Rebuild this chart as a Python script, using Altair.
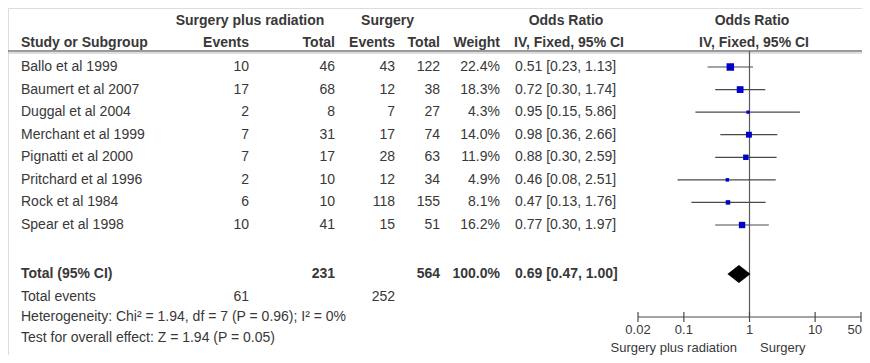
import altair as alt
import pandas as pd

FONT = "Liberation Sans"
TXT = "#383838"
FS = 14
FS_AX = 13

studies = ["Ballo et al 1999", "Baumert et al 2007", "Duggal et al 2004", "Merchant et al 1999",
           "Pignatti et al 2000", "Pritchard et al 1996", "Rock et al 1984", "Spear et al 1998"]
spr_events = [10, 17, 2, 7, 7, 2, 6, 10]
spr_total = [46, 68, 8, 31, 17, 10, 10, 41]
s_events = [43, 12, 7, 17, 28, 12, 118, 15]
s_total = [122, 38, 27, 74, 63, 34, 155, 51]
weight = [22.4, 18.3, 4.3, 14.0, 11.9, 4.9, 8.1, 16.2]
odds = [0.51, 0.72, 0.95, 0.98, 0.88, 0.46, 0.47, 0.77]
lower = [0.23, 0.30, 0.15, 0.36, 0.30, 0.08, 0.13, 0.30]
upper = [1.13, 1.74, 5.86, 2.66, 2.59, 2.51, 1.76, 1.97]

total_label = ["Total (95% CI)"]
total_spr = [231]
total_s = [564]
total_weight = [100.0]
total_or = [0.69]
total_lo = [0.47]
total_hi = [1.00]
events_label = ["Total events"]
events_spr = [61]
events_s = [252]
het_text = ["Heterogeneity: Chi² = 1.94, df = 7 (P = 0.96); I² = 0%"]
overall_text = ["Test for overall effect: Z = 1.94 (P = 0.05)"]
tick_values = [0.02, 0.1, 1, 10, 50]
tick_labels = ["0.02", "0.1", "1", "10", "50"]
favours = ["Surgery plus radiation", "Surgery"]
group_headers = ["Surgery plus radiation", "Surgery", "Odds Ratio", "Odds Ratio"]
col_headers = ["Study or Subgroup", "Events", "Total", "Events", "Total", "Weight",
               "IV, Fixed, 95% CI", "IV, Fixed, 95% CI"]

df = pd.DataFrame({
    "study": studies, "spr_events": spr_events, "spr_total": spr_total,
    "s_events": s_events, "s_total": s_total, "weight": weight,
    "odds": odds, "lower": lower, "upper": upper,
})
df["weight_txt"] = [f"{w:.1f}%" for w in weight]
df["or_txt"] = [f"{o:.2f} [{l:.2f}, {u:.2f}]" for o, l, u in zip(odds, lower, upper)]

xscale = alt.Scale(type="log", domain=[0.02, 50], range=[630, 853])
yscale = alt.Scale(type="point", domain=studies, range=[59, 217], padding=0)
Y = alt.Y("study:N", scale=yscale, axis=None)

AXIS_Y = 309


def txt(data, field, x, y, align="left", weight="normal", baseline="middle", size=FS):
    return alt.Chart(data).mark_text(
        align=align, baseline=baseline, font=FONT, fontSize=size, color=TXT, fontWeight=weight
    ).encode(x=alt.value(x), y=y, text=alt.Text(f"{field}:N"))


layers = []
# study rows
for field, x, align in [("study", 13, "left"), ("spr_events", 241, "right"),
                        ("spr_total", 327, "right"), ("s_events", 387, "right"),
                        ("s_total", 432, "right"), ("weight_txt", 492, "right"),
                        ("or_txt", 507, "left")]:
    layers.append(txt(df, field, x, Y, align))

# headers
gh = pd.DataFrame({"t": group_headers})
gx = [242, 379.5, 558, 744]
for i, x in enumerate(gx):
    layers.append(txt(gh.iloc[[i]], "t", x, alt.value(13), "center", "bold"))
ch = pd.DataFrame({"t": col_headers})
cspec = [(13, "left"), (241, "right"), (327, "right"), (387, "right"), (432, "right"),
         (492, "right"), (561, "center"), (746, "center")]
for i, (x, a) in enumerate(cspec):
    layers.append(txt(ch.iloc[[i]], "t", x, alt.value(35), a, "bold"))

# total row
tot = pd.DataFrame({"label": total_label, "spr": total_spr, "s": total_s,
                    "w": [f"{w:.1f}%" for w in total_weight],
                    "o": [f"{o:.2f} [{l:.2f}, {u:.2f}]" for o, l, u in zip(total_or, total_lo, total_hi)],
                    "est": total_or, "lo": total_lo, "hi": total_hi})
for field, x, align in [("label", 13, "left"), ("spr", 327, "right"), ("s", 432, "right"),
                        ("w", 492, "right"), ("o", 507, "left")]:
    layers.append(txt(tot, field, x, alt.value(266), align, "bold"))

ev = pd.DataFrame({"label": events_label, "spr": events_spr, "s": events_s})
for field, x, align in [("label", 13, "left"), ("spr", 241, "right"), ("s", 387, "right")]:
    layers.append(txt(ev, field, x, alt.value(288.5), align))

layers.append(txt(pd.DataFrame({"t": het_text}), "t", 13, alt.value(308.5)))
layers.append(txt(pd.DataFrame({"t": overall_text}), "t", 13, alt.value(330)))

# header double line
hl = pd.DataFrame({"a": [0]})
layers.append(alt.Chart(hl).mark_rule(color="#7a7a7a", strokeWidth=1.5).encode(
    x=alt.value(0), x2=alt.value(854), y=alt.value(43)))
layers.append(alt.Chart(hl).mark_rule(color="#bdbdbd", strokeWidth=1).encode(
    x=alt.value(0), x2=alt.value(854), y=alt.value(45)))

# forest plot
ref = pd.DataFrame({"v": [1]})
layers.append(alt.Chart(ref).mark_rule(color="#5a5a5a", strokeWidth=1.2).encode(
    x=alt.X("v:Q", scale=xscale, axis=None), y=alt.value(43), y2=alt.value(AXIS_Y)))
layers.append(alt.Chart(df).mark_rule(color="#4a4a4a", strokeWidth=1.2).encode(
    x=alt.X("lower:Q", scale=xscale, axis=None), x2="upper:Q", y=Y))
layers.append(alt.Chart(df).mark_square(color="#0000cc", opacity=1, filled=True).encode(
    x=alt.X("odds:Q", scale=xscale, axis=None), y=Y,
    size=alt.Size("weight:Q", scale=alt.Scale(domain=[0, 22.4], range=[0, 56]), legend=None)))
layers.append(alt.Chart(tot).mark_point(
    shape="M-1,0L0,-0.78L1,0L0,0.78Z", filled=True, color="black", opacity=1, size=529
).encode(x=alt.X("est:Q", scale=xscale, axis=None), y=alt.value(266)))

# axis
ax = pd.DataFrame({"lo": [tick_values[0]], "hi": [tick_values[-1]]})
layers.append(alt.Chart(ax).mark_rule(color="#4a4a4a", strokeWidth=1.2).encode(
    x=alt.X("lo:Q", scale=xscale, axis=None), x2="hi:Q", y=alt.value(AXIS_Y)))
tk = pd.DataFrame({"v": tick_values, "l": tick_labels})
layers.append(alt.Chart(tk).mark_rule(color="#4a4a4a", strokeWidth=1.2).encode(
    x=alt.X("v:Q", scale=xscale, axis=None), y=alt.value(AXIS_Y - 5), y2=alt.value(AXIS_Y + 5)))
layers.append(alt.Chart(tk.iloc[:-1]).mark_text(font=FONT, fontSize=FS_AX, color=TXT, baseline="middle").encode(
    x=alt.X("v:Q", scale=xscale, axis=None), y=alt.value(322), text="l:N"))
layers.append(alt.Chart(tk.iloc[-1:]).mark_text(font=FONT, fontSize=FS_AX, color=TXT, baseline="middle",
                                                 align="right").encode(
    x=alt.value(854), y=alt.value(322), text="l:N"))

fv = pd.DataFrame({"t": favours})
layers.append(txt(fv.iloc[[0]], "t", 729, alt.value(344), "right", baseline="alphabetic", size=FS_AX))
layers.append(txt(fv.iloc[[1]], "t", 752, alt.value(344), "left", baseline="alphabetic", size=FS_AX))

chart = alt.layer(*layers).properties(
    width=854, height=347, padding=0, autosize=alt.AutoSizeParams(type="none")
).configure_view(stroke=None).configure(background="white")

chart.save("out.html", embed_options={"renderer": "svg", "actions": False})
